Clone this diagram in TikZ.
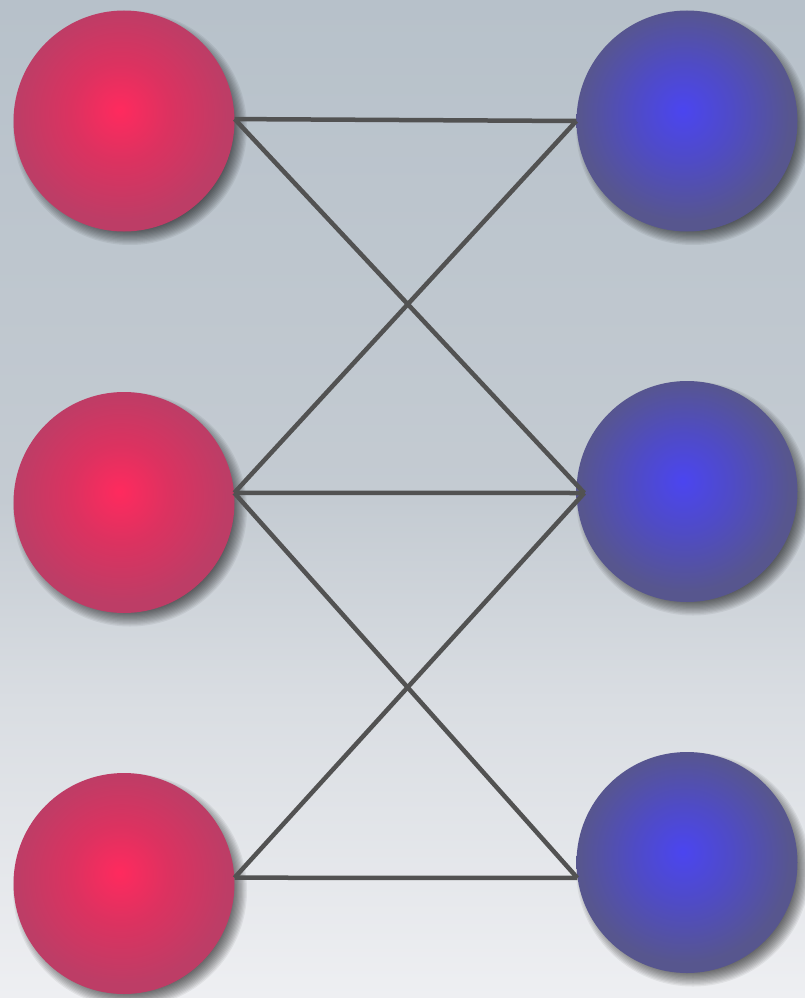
\documentclass[tikz,border=0pt]{standalone}
\definecolor{bgtop}{HTML}{B7C1CA}
\definecolor{bgmid}{HTML}{C4CBD2}
\definecolor{bglow}{HTML}{D9DDE2}
\definecolor{bgbot}{HTML}{EEEFF2}
\definecolor{redc}{HTML}{FF2A5E}
\definecolor{redm}{HTML}{DC3260}
\definecolor{rede}{HTML}{BD3D66}
\definecolor{bluec}{HTML}{4B45F0}
\definecolor{bluem}{HTML}{4F4BC6}
\definecolor{bluee}{HTML}{57568E}
\definecolor{edgec}{HTML}{525252}
\pgfdeclareradialshading{redball}{\pgfpoint{-1bp}{2.5bp}}{color(0bp)=(redc); color(11bp)=(redm); color(24bp)=(rede); color(50bp)=(rede)}
\pgfdeclareradialshading{blueball}{\pgfpoint{-1bp}{2.5bp}}{color(0bp)=(bluec); color(11bp)=(bluem); color(24bp)=(bluee); color(50bp)=(bluee)}
\pgfdeclareverticalshading{bgshade}{100bp}{color(0bp)=(bgbot); color(25bp)=(bgbot); color(40bp)=(bglow); color(50bp)=(bgmid); color(75bp)=(bgtop); color(100bp)=(bgtop)}
\tikzset{
  ball/.style={circle, minimum size=221pt, inner sep=0pt},
  redb/.style={ball, shading=redball},
  blueb/.style={ball, shading=blueball},
  shadowlayer/.style={fill=black, opacity=0.06},
  link/.style={draw=edgec, line width=4.5pt}
}
\begin{document}
\begin{tikzpicture}[x=1pt,y=-1pt]
\useasboundingbox (0,0) rectangle (805,998);
\shade[shading=bgshade] (0,0) rectangle (805,998);
\coordinate (cr1) at (124,121);
\coordinate (cr2) at (124,502.5);
\coordinate (cr3) at (124,883.5);
\coordinate (cb1) at (687,121);
\coordinate (cb2) at (687,491.5);
\coordinate (cb3) at (687,862.5);
\foreach \c in {cr1,cr2,cr3,cb1,cb2,cb3}{
  \foreach \k in {1,...,16}{
    \fill[shadowlayer] ([xshift=6pt,yshift=-7pt]\c) circle (97+1.25*\k);
  }
}
\node[redb] (r1) at (cr1) {};
\node[redb] (r2) at (cr2) {};
\node[redb] (r3) at (cr3) {};
\node[blueb] (b1) at (cb1) {};
\node[blueb] (b2) at (cb2) {};
\node[blueb] (b3) at (cb3) {};
\coordinate (r1p) at (r1.1);
\coordinate (r2p) at (r2.5);
\coordinate (r3p) at (r3.3);
\coordinate (b1p) at (b1.180);
\coordinate (b2p) at ([xshift=8pt,yshift=-1.5pt]b2.west);
\coordinate (b3p) at (b3.188);
\draw[link] (r1p) -- (b1p);
\draw[link] (r1p) -- (b2p);
\draw[link] (r2p) -- (b1p);
\draw[link] (r2p) -- (b2p);
\draw[link] (r2p) -- (b3p);
\draw[link] (r3p) -- (b2p);
\draw[link] (r3p) -- (b3p);
\end{tikzpicture}
\end{document}
